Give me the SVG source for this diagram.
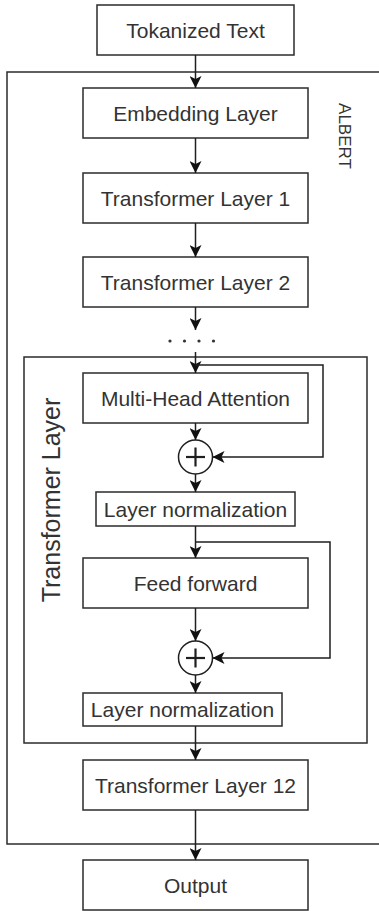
<svg xmlns="http://www.w3.org/2000/svg" width="379" height="911" viewBox="0 0 379 911">
  <style>
    .box { fill: #ffffff; stroke: #2b2b2b; stroke-width: 1.5; }
    .frame { fill: none; stroke: #2b2b2b; stroke-width: 1.5; }
    .lbl { font-family: "Liberation Sans", Arial, Helvetica, sans-serif; font-size: 21px; fill: #333333; text-anchor: middle; dominant-baseline: central; }
    .side-small { font-size: 17px; }
    .side-large { font-size: 25px; }
    .edge { fill: none; stroke: #1f1f1f; stroke-width: 1.5; }
    .sum { fill: #ffffff; stroke: #1f1f1f; stroke-width: 1.5; }
    .plus { stroke: #1f1f1f; stroke-width: 2.2; }
  </style>
  <defs>
    <marker id="arrow" viewBox="0 0 12 12" refX="12" refY="6" markerWidth="12" markerHeight="12" orient="auto" markerUnits="userSpaceOnUse">
      <path d="M0,0 L12,6 L0,12 L3,6 Z" fill="#111111"/>
    </marker>
  </defs>
  <rect width="379" height="911" fill="#ffffff"/>

  <!-- ALBERT container -->
  <g id="albert">
    <rect class="frame" x="7" y="72" width="380" height="772"/>
    <text class="lbl side-small" x="344" y="136" transform="rotate(90 344 136)">ALBERT</text>
  </g>

  <!-- Expanded transformer layer container -->
  <g id="transformer-layer">
    <rect class="frame" x="24" y="357" width="343" height="386"/>
    <text class="lbl side-large" x="51" y="500" transform="rotate(-90 51 500)">Transformer Layer</text>
  </g>

  <g id="tokenized-text">
    <rect class="box" x="97" y="5" width="197" height="50"/>
    <text class="lbl" x="195.5" y="30">Tokanized Text</text>
  </g>
  <g id="embedding">
    <rect class="box" x="83" y="88" width="225" height="50"/>
    <text class="lbl" x="195.5" y="113">Embedding Layer</text>
  </g>
  <g id="layer-1">
    <rect class="box" x="83" y="173" width="225" height="50"/>
    <text class="lbl" x="195.5" y="198">Transformer Layer 1</text>
  </g>
  <g id="layer-2">
    <rect class="box" x="83" y="257" width="225" height="50"/>
    <text class="lbl" x="195.5" y="282">Transformer Layer 2</text>
  </g>
  <g id="ellipsis" fill="#333333">
    <circle cx="170" cy="341" r="1.6"/>
    <circle cx="184.5" cy="341" r="1.6"/>
    <circle cx="199" cy="341" r="1.6"/>
    <circle cx="213.5" cy="341" r="1.6"/>
  </g>
  <g id="attention">
    <rect class="box" x="83" y="373" width="225" height="50"/>
    <text class="lbl" x="195.5" y="398">Multi-Head Attention</text>
  </g>
  <g id="add-1">
    <circle class="sum" cx="195.5" cy="457" r="17"/>
    <line class="plus" x1="186" y1="457" x2="205" y2="457"/>
    <line class="plus" x1="195.5" y1="447.5" x2="195.5" y2="466.5"/>
  </g>
  <g id="norm-1">
    <rect class="box" x="96" y="492" width="199" height="34"/>
    <text class="lbl" x="195.5" y="509">Layer normalization</text>
  </g>
  <g id="feed-forward">
    <rect class="box" x="83" y="558" width="225" height="50"/>
    <text class="lbl" x="195.5" y="583">Feed forward</text>
  </g>
  <g id="add-2">
    <circle class="sum" cx="195.5" cy="658" r="17"/>
    <line class="plus" x1="186" y1="658" x2="205" y2="658"/>
    <line class="plus" x1="195.5" y1="648.5" x2="195.5" y2="667.5"/>
  </g>
  <g id="norm-2">
    <rect class="box" x="83" y="693" width="199" height="33"/>
    <text class="lbl" x="182.5" y="709.5">Layer normalization</text>
  </g>
  <g id="layer-12">
    <rect class="box" x="83" y="760" width="225" height="50"/>
    <text class="lbl" x="195.5" y="785">Transformer Layer 12</text>
  </g>
  <g id="output">
    <rect class="box" x="83" y="860" width="225" height="50"/>
    <text class="lbl" x="195.5" y="885">Output</text>
  </g>

  <!-- Connectors -->
  <g id="connectors" marker-end="url(#arrow)">
    <path class="edge" d="M195.5,55 V88"/>
    <path class="edge" d="M195.5,138 V173"/>
    <path class="edge" d="M195.5,223 V257"/>
    <path class="edge" d="M195.5,307 V330"/>
    <path class="edge" d="M195.5,352 V373"/>
    <path class="edge" d="M195.5,365 H323 V457 H212.5"/>
    <path class="edge" d="M195.5,423 V440"/>
    <path class="edge" d="M195.5,474 V492"/>
    <path class="edge" d="M195.5,526 V558"/>
    <path class="edge" d="M195.5,542 H330 V658 H212.5"/>
    <path class="edge" d="M195.5,608 V641"/>
    <path class="edge" d="M195.5,675 V693"/>
    <path class="edge" d="M195.5,726 V760"/>
    <path class="edge" d="M195.5,810 V860"/>
  </g>
</svg>
